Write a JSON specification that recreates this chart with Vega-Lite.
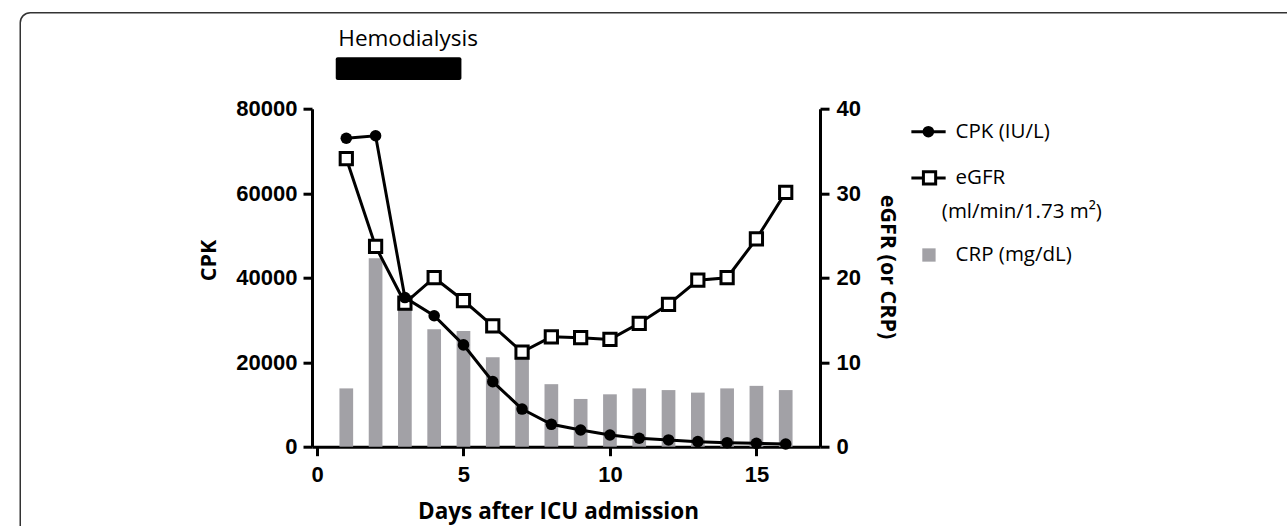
{
  "$schema": "https://vega.github.io/schema/vega-lite/v6.json",
  "width": 508,
  "height": 338,
  "autosize": {"type": "none"},
  "padding": {"left": 312, "top": 108.7, "right": 467, "bottom": 79.3},
  "background": "white",
  "config": {
    "view": {"stroke": null},
    "axis": {
      "grid": false,
      "domainColor": "black",
      "domainWidth": 3,
      "tickColor": "black",
      "tickWidth": 3,
      "tickSize": 9,
      "labelFont": "Liberation Sans",
      "labelFontWeight": "bold",
      "labelFontSize": 22,
      "labelColor": "black",
      "titleFont": "Open Sans",
      "titleFontWeight": "bold",
      "titleFontSize": 21.5,
      "titleColor": "black"
    }
  },
  "data": {
    "values": [
      {"day": 1, "cpk": 73000, "egfr": 34.1, "crp": 6.9},
      {"day": 2, "cpk": 73600, "egfr": 23.7, "crp": 22.3},
      {"day": 3, "cpk": 35300, "egfr": 17.0, "crp": 17.0},
      {"day": 4, "cpk": 31000, "egfr": 20.0, "crp": 13.9},
      {"day": 5, "cpk": 24100, "egfr": 17.3, "crp": 13.7},
      {"day": 6, "cpk": 15400, "egfr": 14.3, "crp": 10.6},
      {"day": 7, "cpk": 8900, "egfr": 11.2, "crp": 11.0},
      {"day": 8, "cpk": 5300, "egfr": 13.0, "crp": 7.4},
      {"day": 9, "cpk": 3950, "egfr": 12.9, "crp": 5.65},
      {"day": 10, "cpk": 2770, "egfr": 12.7, "crp": 6.2},
      {"day": 11, "cpk": 2000, "egfr": 14.6, "crp": 6.9},
      {"day": 12, "cpk": 1600, "egfr": 16.85, "crp": 6.7},
      {"day": 13, "cpk": 1200, "egfr": 19.7, "crp": 6.4},
      {"day": 14, "cpk": 950, "egfr": 20.0, "crp": 6.9},
      {"day": 15, "cpk": 800, "egfr": 24.6, "crp": 7.2},
      {"day": 16, "cpk": 640, "egfr": 30.1, "crp": 6.7}
    ]
  },
  "layer": [
    {
      "layer": [
        {
          "mark": {"type": "bar", "width": 13.7, "color": "#a2a1a6"},
          "encoding": {
            "x": {"field": "day", "type": "quantitative", "scale": {"domain": [0, 17], "nice": false},
                  "axis": {"values": [0, 5, 10, 15], "labelPadding": 9, "labelFont": "Liberation Sans", "labelFontWeight": "bold", "labelFontSize": 22, "title": "Days after ICU admission", "titleX": 246, "titleY": 71.3, "titleBaseline": "alphabetic", "titleAlign": "center", "titleFontSize": 22.5}},
            "y": {"field": "crp", "type": "quantitative", "scale": {"domain": [0, 40]},
                  "axis": {"orient": "right", "values": [0, 10, 20, 30, 40], "labelPadding": 7, "labelFont": "Liberation Sans", "labelFontWeight": "bold", "labelFontSize": 22, "title": "eGFR (or CRP)", "titleAngle": 90, "titleX": 60, "titleY": 157.8, "titleBaseline": "alphabetic", "titleAlign": "center"}}
          }
        },
        {
          "mark": {"type": "line", "color": "black", "strokeWidth": 3},
          "encoding": {
            "x": {"field": "day", "type": "quantitative", "title": "Days after ICU admission"},
            "y": {"field": "egfr", "type": "quantitative", "title": "eGFR (or CRP)"}
          }
        },
        {
          "mark": {"type": "point", "shape": "square", "filled": true, "fill": "white", "stroke": "black", "strokeWidth": 3, "size": 150, "opacity": 1},
          "encoding": {
            "x": {"field": "day", "type": "quantitative", "title": "Days after ICU admission"},
            "y": {"field": "egfr", "type": "quantitative", "title": "eGFR (or CRP)"}
          }
        }
      ]
    },
    {
      "layer": [
        {
          "mark": {"type": "line", "color": "black", "strokeWidth": 3},
          "encoding": {
            "x": {"field": "day", "type": "quantitative", "title": "Days after ICU admission"},
            "y": {"field": "cpk", "type": "quantitative", "scale": {"domain": [0, 80000]},
                  "axis": {"orient": "left", "values": [0, 20000, 40000, 60000, 80000], "format": "d", "labelPadding": 6, "labelFont": "Liberation Sans", "labelFontWeight": "bold", "labelFontSize": 22, "title": "CPK", "titleAngle": -90, "titleX": -97, "titleY": 151.3, "titleBaseline": "alphabetic", "titleAlign": "center"}}
          }
        },
        {
          "mark": {"type": "point", "shape": "circle", "filled": true, "color": "black", "size": 133, "opacity": 1},
          "encoding": {
            "x": {"field": "day", "type": "quantitative", "title": "Days after ICU admission"},
            "y": {"field": "cpk", "type": "quantitative", "title": "CPK"}
          }
        }
      ]
    },
    {
      "data": {"values": [{}]},
      "layer": [
        {
          "mark": {"type": "rect", "fillOpacity": 0, "stroke": "#333333", "strokeWidth": 1.5, "cornerRadius": 10},
          "encoding": {
            "x": {"datum": -10.13, "type": "quantitative"},
            "x2": {"datum": 35},
            "y": {"datum": 102722, "type": "quantitative", "scale": {"domain": [0, 80000]}, "axis": null},
            "y2": {"datum": -30000}
          }
        },
        {
          "mark": {"type": "rect", "color": "black", "cornerRadius": 2},
          "encoding": {
            "x": {"datum": 0.64, "type": "quantitative"},
            "x2": {"datum": 4.93},
            "y": {"datum": 92166, "type": "quantitative", "axis": null},
            "y2": {"datum": 86793}
          }
        },
        {
          "mark": {"type": "text", "text": "Hemodialysis", "font": "Open Sans", "fontSize": 22.5, "align": "center", "baseline": "middle", "color": "black"},
          "encoding": {
            "x": {"datum": 3.11, "type": "quantitative"},
            "y": {"datum": 96497, "type": "quantitative", "axis": null}
          }
        },
        {
          "mark": {"type": "rule", "color": "black", "strokeWidth": 3},
          "encoding": {
            "x": {"datum": 20.29, "type": "quantitative"},
            "x2": {"datum": 21.46},
            "y": {"datum": 74556, "type": "quantitative", "axis": null}
          }
        },
        {
          "mark": {"type": "point", "shape": "circle", "filled": true, "color": "black", "size": 133, "opacity": 1},
          "encoding": {
            "x": {"datum": 20.87, "type": "quantitative"},
            "y": {"datum": 74556, "type": "quantitative", "axis": null}
          }
        },
        {
          "mark": {"type": "rule", "color": "black", "strokeWidth": 3},
          "encoding": {
            "x": {"datum": 20.29, "type": "quantitative"},
            "x2": {"datum": 21.46},
            "y": {"datum": 63598, "type": "quantitative", "axis": null}
          }
        },
        {
          "mark": {"type": "point", "shape": "square", "filled": true, "fill": "white", "stroke": "black", "strokeWidth": 3, "size": 150, "opacity": 1},
          "encoding": {
            "x": {"datum": 20.91, "type": "quantitative"},
            "y": {"datum": 63598, "type": "quantitative", "axis": null}
          }
        },
        {
          "mark": {"type": "point", "shape": "square", "filled": true, "color": "#a2a1a6", "size": 177, "opacity": 1},
          "encoding": {
            "x": {"datum": 20.89, "type": "quantitative"},
            "y": {"datum": 45373, "type": "quantitative", "axis": null}
          }
        },
        {
          "mark": {"type": "text", "text": "CPK (IU/L)", "font": "Open Sans", "fontSize": 20.5, "align": "left", "baseline": "middle", "color": "black"},
          "encoding": {
            "x": {"datum": 21.8, "type": "quantitative"},
            "y": {"datum": 74556, "type": "quantitative", "axis": null}
          }
        },
        {
          "mark": {"type": "text", "text": "eGFR", "font": "Open Sans", "fontSize": 20.5, "align": "left", "baseline": "middle", "color": "black"},
          "encoding": {
            "x": {"datum": 21.8, "type": "quantitative"},
            "y": {"datum": 63598, "type": "quantitative", "axis": null}
          }
        },
        {
          "mark": {"type": "text", "text": "(ml/min/1.73 m²)", "font": "Open Sans", "fontSize": 20.5, "align": "left", "baseline": "middle", "color": "black"},
          "encoding": {
            "x": {"datum": 21.33, "type": "quantitative"},
            "y": {"datum": 55621, "type": "quantitative", "axis": null}
          }
        },
        {
          "mark": {"type": "text", "text": "CRP (mg/dL)", "font": "Open Sans", "fontSize": 20.5, "align": "left", "baseline": "middle", "color": "black"},
          "encoding": {
            "x": {"datum": 21.8, "type": "quantitative"},
            "y": {"datum": 45373, "type": "quantitative", "axis": null}
          }
        }
      ]
    }
  ],
  "resolve": {"scale": {"y": "independent"}}
}
